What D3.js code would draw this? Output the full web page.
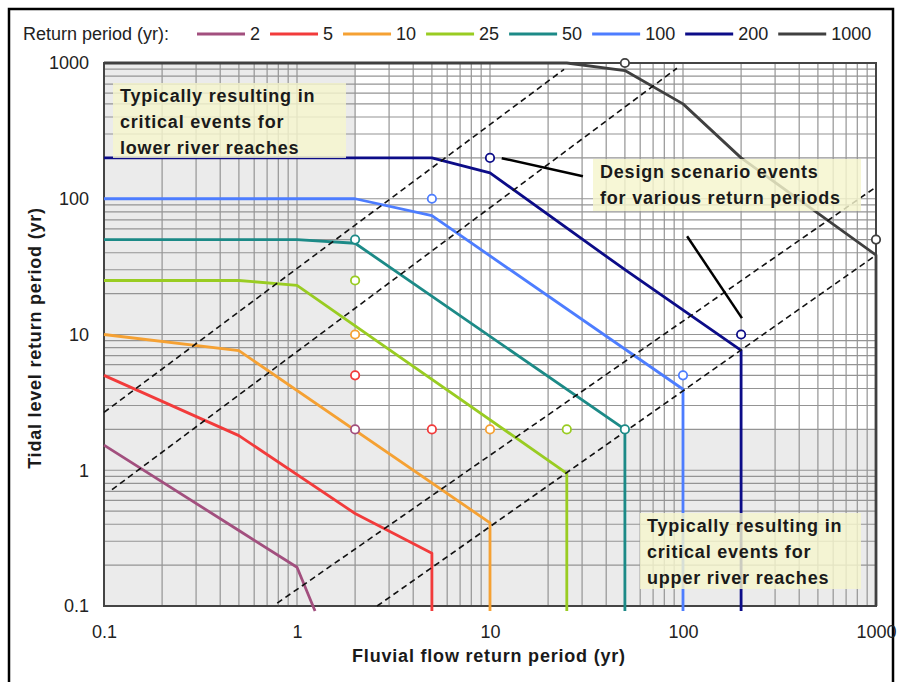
<!DOCTYPE html>
<html>
<head>
<meta charset="utf-8">
<script src="https://cdn.jsdelivr.net/npm/d3@7"></script>
<style>
  body { margin: 0; background: #fff; }
  svg { display: block; font-family: "Liberation Sans", Arial, sans-serif; }
</style>
</head>
<body>
<div id="chart"></div>
<script>
// return periods and their colours
const periods = [2, 5, 10, 25, 50, 100, 200, 1000]
const colors = ["#a24f7e", "#f23b3b", "#f5a133", "#99cc22", "#1c8a87", "#4d7dff", "#0c0c88", "#404040"]

// joint probability curves [fluvial, tidal]
const curve2 = [[0.1, 1.53], [0.5, 0.36], [1, 0.193], [1.24, 0.092]]
const curve5 = [[0.1, 5], [0.5, 1.8], [2, 0.48], [5, 0.245], [5, 0.092]]
const curve10 = [[0.1, 10], [0.5, 7.6], [10, 0.41], [10, 0.092]]
const curve25 = [[0.1, 25], [0.5, 25], [1, 23], [25, 0.95], [25, 0.092]]
const curve50 = [[0.1, 50], [1, 50], [2, 47], [50, 2], [50, 0.092]]
const curve100 = [[0.1, 100], [2, 100], [5, 75], [100, 3.95], [100, 0.092]]
const curve200 = [[0.1, 200], [5, 200], [10, 155], [50, 30], [200, 7.65], [200, 0.092]]
const curve1000 = [[0.1, 1000], [25, 1000], [50, 880], [100, 500], [200, 200], [1000, 38.5], [1000, 0.1]]
const curves = [curve2, curve5, curve10, curve25, curve50, curve100, curve200, curve1000]

// design scenario events [period, fluvial, tidal]
const designEvents = [
  [2, 2, 2],
  [5, 2, 5], [5, 5, 2],
  [10, 2, 10], [10, 10, 2],
  [25, 2, 25], [25, 25, 2],
  [50, 2, 50], [50, 50, 2],
  [100, 5, 100], [100, 100, 5],
  [200, 10, 200], [200, 200, 10],
  [1000, 50, 1000], [1000, 1000, 50]
]

// dashed guide lines, start and end [fluvial, tidal]
const guideLines = [
  [[0.1, 2.67], [24.2, 899]],
  [[0.11, 0.72], [93, 915]],
  [[0.79, 0.105], [1000, 122]],
  [[2.6, 0.1], [1000, 38.4]]
]

// leader lines for the design events note
const leaders = [
  [[11.5, 199], [30.3, 146.5]],
  [[105, 52.9], [202, 13.2]]
]

const tickVals = [0.1, 1, 10, 100, 1000]

const width = 900
const height = 682

const svg = d3.select("#chart")
  .append("svg")
  .attr("width", width)
  .attr("height", height)

const x = d3.scaleLog().domain([0.1, 1000]).range([104, 876])
const y = d3.scaleLog().domain([0.1, 1000]).range([606, 63])

// outer frame
svg.append("rect")
  .attr("x", 9).attr("y", 9)
  .attr("width", 884).attr("height", 690)
  .attr("fill", "none")
  .attr("stroke", "#000")
  .attr("stroke-width", 2.5)

// grey zones
const shade = "#ebebeb"
svg.append("rect")
  .attr("x", x(0.1)).attr("y", y(1000))
  .attr("width", x(2) - x(0.1)).attr("height", y(0.1) - y(1000))
  .attr("fill", shade)
svg.append("rect")
  .attr("x", x(2)).attr("y", y(2))
  .attr("width", x(1000) - x(2)).attr("height", y(0.1) - y(2))
  .attr("fill", shade)

// grid
const gridVals = []
;[0.1, 1, 10, 100].forEach(d => { for (let k = 1; k < 10; k++) gridVals.push(+(k * d).toPrecision(3)) })
gridVals.push(1000)

const grid = svg.append("g").attr("stroke", "#949494").attr("stroke-width", 1.2)
grid.selectAll(".gx").data(gridVals).join("line")
  .attr("x1", d => x(d)).attr("x2", d => x(d))
  .attr("y1", y(0.1)).attr("y2", y(1000))
grid.selectAll(".gy").data(gridVals).join("line")
  .attr("class", "gy")
  .attr("y1", d => y(d)).attr("y2", d => y(d))
  .attr("x1", x(0.1)).attr("x2", x(1000))

// plot frame
svg.append("rect")
  .attr("x", x(0.1)).attr("y", y(1000))
  .attr("width", x(1000) - x(0.1)).attr("height", y(0.1) - y(1000))
  .attr("fill", "none")
  .attr("stroke", "#444")
  .attr("stroke-width", 2)

const line = d3.line().x(d => x(d[0])).y(d => y(d[1]))

// curves
svg.append("g").selectAll("path")
  .data(curves)
  .join("path")
  .attr("d", line)
  .attr("fill", "none")
  .attr("stroke", (d, i) => colors[i])
  .attr("stroke-width", 2.8)
  .attr("stroke-linejoin", "round")

// dashed guides
svg.append("g").selectAll("path")
  .data(guideLines)
  .join("path")
  .attr("d", line)
  .attr("fill", "none")
  .attr("stroke", "#111")
  .attr("stroke-width", 1.6)
  .attr("stroke-dasharray", "6,4")

// design events
svg.append("g").selectAll("circle")
  .data(designEvents)
  .join("circle")
  .attr("cx", d => x(d[1]))
  .attr("cy", d => y(d[2]))
  .attr("r", 4.2)
  .attr("fill", "#fff")
  .attr("stroke", d => colors[periods.indexOf(d[0])])
  .attr("stroke-width", 1.8)

// note boxes
const notes = [
  {x: 113, y: 83, w: 233, h: 75, lines: ["Typically resulting in", "critical events for", "lower river reaches"]},
  {x: 593, y: 159, w: 268, h: 52, lines: ["Design scenario events", "for various return periods"]},
  {x: 640, y: 513, w: 221, h: 76, lines: ["Typically resulting in", "critical events for", "upper river reaches"]}
]
const noteG = svg.append("g")
notes.forEach(n => {
  noteG.append("rect")
    .attr("x", n.x).attr("y", n.y)
    .attr("width", n.w).attr("height", n.h)
    .attr("fill", "#f5f5cd")
    .attr("opacity", 0.82)
  n.lines.forEach((t, i) => {
    noteG.append("text")
      .attr("x", n.x + 7)
      .attr("y", n.y + 19 + i * 26)
      .attr("font-size", 18)
      .attr("font-weight", "bold")
      .attr("letter-spacing", 0.8)
      .attr("fill", "#1a1a1a")
      .text(t)
  })
})

// leader lines
svg.append("g").selectAll("path")
  .data(leaders)
  .join("path")
  .attr("d", line)
  .attr("stroke", "#000")
  .attr("stroke-width", 2.5)

// X axis labels
svg.append("g")
  .attr("transform", `translate(0,${y(0.1)})`)
  .call(d3.axisBottom(x).tickValues(tickVals).tickFormat(d3.format("~g")).tickSize(0).tickPadding(19))
  .call(g => g.select(".domain").remove())
  .selectAll("text")
  .attr("font-size", 18)
  .attr("font-family", "Liberation Sans, Arial, sans-serif")
  .attr("fill", "#222")

// Y axis labels
svg.append("g")
  .attr("transform", `translate(${x(0.1)},0)`)
  .call(d3.axisLeft(y).tickValues(tickVals).tickFormat(d3.format("~g")).tickSize(0).tickPadding(15))
  .call(g => g.select(".domain").remove())
  .selectAll("text")
  .attr("font-size", 18)
  .attr("font-family", "Liberation Sans, Arial, sans-serif")
  .attr("fill", "#222")

// axis titles
svg.append("text")
  .attr("x", 489)
  .attr("y", 662)
  .attr("text-anchor", "middle")
  .attr("font-size", 18)
  .attr("font-weight", "bold")
  .attr("letter-spacing", 0.8)
  .attr("fill", "#1a1a1a")
  .text("Fluvial flow return period (yr)")

svg.append("text")
  .attr("transform", "rotate(-90)")
  .attr("x", -338)
  .attr("y", 35)
  .attr("dy", "0.35em")
  .attr("text-anchor", "middle")
  .attr("font-size", 18)
  .attr("font-weight", "bold")
  .attr("letter-spacing", 0.8)
  .attr("fill", "#1a1a1a")
  .text("Tidal level return period (yr)")

// legend
const legend = svg.append("g").attr("font-size", 18).attr("fill", "#222")
legend.append("text")
  .attr("x", 23).attr("y", 40)
  .text("Return period (yr):")

let lx = 197
periods.forEach((p, i) => {
  legend.append("line")
    .attr("x1", lx).attr("x2", lx + 48)
    .attr("y1", 34).attr("y2", 34)
    .attr("stroke", colors[i])
    .attr("stroke-width", 3)
  const t = legend.append("text")
    .attr("x", lx + 53).attr("y", 40)
    .text(p)
  lx += 53 + t.node().getComputedTextLength() + 10
})
</script>
</body>
</html>
